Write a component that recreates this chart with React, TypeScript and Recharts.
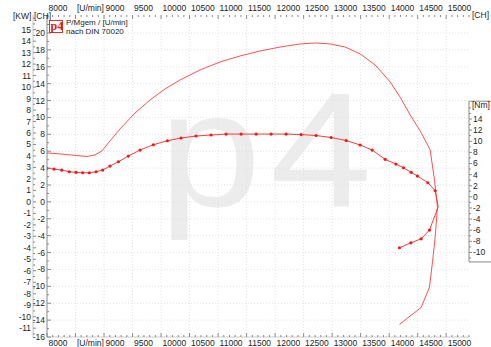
import React from 'react';
import { LineChart, Line, XAxis, YAxis, CartesianGrid, ReferenceArea } from 'recharts';

const FONT = '"Liberation Sans", Arial, sans-serif';
const AXIS = '#8a8a8a';
const TXT = '#1c1c1c';
const RED = '#ff3a3a';

// x axis (rpm) major ticks and their labels
const rpmTicks = [8000, 8500, 9000, 9500, 10000, 10500, 11000, 11500, 12000, 12500, 13000, 13500, 14000, 14500, 15000];
const rpmLabels = ['8000', '[U/min]', '9000', '9500', '10000', '10500', '11000', '11500', '12000', '12500', '13000', '13500', '14000', '14500', '15000'];

// y axes labels
const kwLabels = [-11, -10, -9, -8, -7, -6, -5, -4, -3, -2, -1, 0, 1, 2, 3, 4, 5, 6, 7, 8, 9, 10, 11, 12, 13, 14, 15];
const chLeftLabels = [-16, -14, -12, -10, -8, -6, -4, -2, 0, 2, 4, 6, 8, 10, 12, 14, 16, 18, 20];
const chRightLabels = [20, 18, 16, 14, -10, -12, -14, -16];
const nmLabels = [-10, -8, -6, -4, -2, 0, 2, 4, 6, 8, 10, 12, 14];

// power curve [CH]
const powerRpm = [8000, 8228, 8491, 8702, 8842, 8965, 9105, 9281, 9544, 9807, 10070, 10333, 10684, 11035, 11386, 11737, 12088, 12439, 12702, 12965, 13228, 13491, 13754, 14018, 14193, 14368, 14544, 14719, 14795, 14847, 14807, 14760, 14707, 14561, 14181];
const powerCh = [5.8, 5.68, 5.5, 5.38, 5.56, 6.04, 7.22, 8.64, 10.53, 12.07, 13.37, 14.44, 15.62, 16.57, 17.28, 17.87, 18.34, 18.7, 18.82, 18.7, 18.34, 17.52, 16.22, 14.2, 12.4, 10.3, 8.4, 6.15, 2.6, -0.6, -4.2, -7.1, -10.1, -12.5, -14.5];

// torque curve [Nm]
const torqueRpm = [8000, 8123, 8258, 8391, 8509, 8626, 8742, 8860, 8977, 9105, 9251, 9426, 9632, 9865, 10111, 10351, 10614, 10877, 11140, 11404, 11667, 11930, 12193, 12456, 12719, 12982, 13246, 13491, 13702, 13930, 14118, 14251, 14386, 14496, 14679, 14807, 14860, 14707, 14561, 14381, 14181];
const torqueNm = [5.13, 5.0, 4.82, 4.51, 4.41, 4.33, 4.33, 4.51, 4.82, 5.54, 6.31, 7.34, 8.42, 9.37, 10.09, 10.58, 10.94, 11.12, 11.29, 11.29, 11.29, 11.29, 11.29, 11.2, 11.03, 10.67, 10.13, 9.32, 8.42, 6.74, 5.9, 5.23, 4.41, 3.74, 2.54, 1.1, -1.78, -5.97, -7.54, -8.26, -9.15];
const torqueNoMarker = [14860];

const powerData = powerRpm.map((r, i) => ({ rpm: r, ch: powerCh[i] }));
const torqueData = torqueRpm.map((r, i) => ({ rpm: r, nm: torqueNm[i], noDot: torqueNoMarker.includes(r) }));

const X_DOMAIN: [number, number] = [8000, 15400];
const CH_DOMAIN: [number, number] = [-16, 22.13];
const KW_DOMAIN: [number, number] = [-16 / 1.3596, 22.13 / 1.3596];
const NM_DOMAIN: [number, number] = [-25.2, 32.7];

const range = (a: number, b: number, s: number) => {
  const out: number[] = [];
  for (let v = a; v <= b + 1e-9; v += s) out.push(Math.round(v * 100) / 100);
  return out;
};
const xAllTicks = range(8000, 15400, 100);
const kwAllTicks = range(-11.5, 16, 0.5);
const chLeftAll = range(-16, 22, 1);
const chRightAll = chLeftAll.filter((v) => v >= 13 || v <= -9);
const nmAllTicks = range(-11, 16, 1);

const txt = { fontFamily: FONT, fontSize: 8.5, fill: TXT } as const;

const XBottomTick = (p: any) => {
  const { x, y, payload } = p;
  const v = payload.value;
  const idx = rpmTicks.indexOf(v);
  const major = idx >= 0;
  return (
    <g>
      <line x1={x} x2={x} y1={y} y2={y - (major ? 4 : 2)} stroke={AXIS} strokeWidth={1} />
      {major && (
        <text x={x + 1.5} y={y + 8.5} textAnchor="start" {...txt}>
          {rpmLabels[idx]}
        </text>
      )}
    </g>
  );
};

const XTopTick = (p: any) => {
  const { x, y, payload } = p;
  const v = payload.value;
  const idx = rpmTicks.indexOf(v);
  const major = idx >= 0;
  return (
    <g>
      <line x1={x} x2={x} y1={y} y2={y + (major ? 4 : 2)} stroke={AXIS} strokeWidth={1} />
      {major && (
        <text x={x + 1.5} y={y - 4} textAnchor="start" {...txt}>
          {rpmLabels[idx]}
        </text>
      )}
    </g>
  );
};

const ChLeftTick = (p: any) => {
  const { x, y, payload } = p;
  const v = payload.value;
  const lab = chLeftLabels.includes(v);
  return (
    <g>
      <line x1={x} x2={x + (lab ? 4 : 2)} y1={y} y2={y} stroke={AXIS} />
      {lab && (
        <text x={x - 2} y={y + 3} textAnchor="end" {...txt}>
          {v}
        </text>
      )}
    </g>
  );
};

const KwTick = (p: any) => {
  const { x, y, payload } = p;
  const v = payload.value;
  const lab = kwLabels.includes(v);
  return (
    <g>
      <line x1={x} x2={x + (lab ? 3 : 2)} y1={y} y2={y} stroke={AXIS} />
      {lab && (
        <text x={x - 2} y={y + 3} textAnchor="end" {...txt}>
          {v}
        </text>
      )}
    </g>
  );
};

const ChRightTick = (p: any) => {
  const { x, y, payload } = p;
  const v = payload.value;
  const lab = chRightLabels.includes(v);
  return (
    <g>
      <line x1={x} x2={x - (lab ? 4 : 2)} y1={y} y2={y} stroke={AXIS} />
      {lab && (
        <text x={x + 4} y={y + 3} textAnchor="start" {...txt}>
          {v}
        </text>
      )}
    </g>
  );
};

const NmTick = (p: any) => {
  const { x, y, payload } = p;
  const v = payload.value;
  const lab = nmLabels.includes(v);
  return (
    <g>
      <line x1={x} x2={x + (lab ? 3 : 2)} y1={y} y2={y} stroke={AXIS} />
      {lab && (
        <text x={x + 4} y={y + 3} textAnchor="start" {...txt}>
          {v}
        </text>
      )}
    </g>
  );
};

const TorqueDot = (p: any) => {
  const { cx, cy, payload, index } = p;
  if (payload.noDot) return <g key={`d${index}`} />;
  return <circle key={`d${index}`} cx={cx} cy={cy} r={1.6} fill="#f01818" />;
};

export default function App() {
  return (
    <div style={{ position: 'absolute', left: 0, top: 0, width: 491, height: 347, background: '#fff', overflow: 'hidden' }}>
      <svg width={491} height={347} style={{ position: 'absolute', left: 0, top: 0 }}>
        <text
          x={0}
          y={0}
          transform="translate(159,206) scale(1.12,1)"
          fontFamily={FONT}
          fontSize={164}
          fill="#ececec"
          letterSpacing={8}
        >
          p4
        </text>
      </svg>
      <div style={{ position: 'absolute', left: 0, top: 0 }}>
        <LineChart width={491} height={347} margin={{ top: 0, right: 0, bottom: 0, left: 0 }}>
          <CartesianGrid
            xAxisId="b"
            yAxisId="ch"
            stroke="#e2e2e2"
            strokeDasharray="1 2"
            verticalValues={rpmTicks}
            horizontalValues={chLeftLabels}
          />
          <XAxis
            xAxisId="t"
            orientation="top"
            dataKey="rpm"
            type="number"
            domain={X_DOMAIN}
            allowDataOverflow
            ticks={xAllTicks}
            interval={0}
            height={15}
            tickSize={0}
            tickMargin={0}
            tick={XTopTick}
            axisLine={false}
          />
          <XAxis
            xAxisId="b"
            orientation="bottom"
            dataKey="rpm"
            type="number"
            domain={X_DOMAIN}
            allowDataOverflow
            ticks={xAllTicks}
            interval={0}
            height={10}
            tickSize={0}
            tickMargin={0}
            tick={XBottomTick}
            axisLine={{ stroke: '#d0d0d0' }}
          />
          <YAxis
            yAxisId="ch"
            orientation="left"
            type="number"
            domain={CH_DOMAIN}
            allowDataOverflow
            ticks={chLeftAll}
            interval={0}
            width={14}
            tickSize={0}
            tickMargin={0}
            tick={ChLeftTick}
            axisLine={{ stroke: AXIS }}
          />
          <YAxis
            yAxisId="kw"
            orientation="left"
            type="number"
            domain={KW_DOMAIN}
            allowDataOverflow
            ticks={kwAllTicks}
            interval={0}
            width={33}
            tickSize={0}
            tickMargin={0}
            tick={KwTick}
            axisLine={{ stroke: '#c4c4c4' }}
          />
          <YAxis
            yAxisId="chr"
            orientation="right"
            type="number"
            domain={CH_DOMAIN}
            allowDataOverflow
            ticks={chRightAll}
            interval={0}
            width={0}
            tickSize={0}
            tickMargin={0}
            tick={ChRightTick}
            axisLine={{ stroke: AXIS }}
          />
          <YAxis
            yAxisId="nm"
            orientation="right"
            type="number"
            domain={NM_DOMAIN}
            allowDataOverflow
            ticks={nmAllTicks}
            interval={0}
            width={22}
            tickSize={0}
            tickMargin={0}
            tick={NmTick}
            axisLine={false}
          />
          <ReferenceArea
            xAxisId="b"
            yAxisId="nm"
            x1={15400}
            x2={16000}
            y1={-11.7}
            y2={17.2}
            ifOverflow="visible"
            fill="#ffffff"
            fillOpacity={1}
            stroke={AXIS}
            strokeWidth={1}
          />
          <Line
            data={powerData}
            xAxisId="b"
            yAxisId="ch"
            dataKey="ch"
            type="linear"
            stroke="#ff5050"
            strokeWidth={1}
            dot={false}
            isAnimationActive={false}
          />
          <Line
            data={torqueData}
            xAxisId="b"
            yAxisId="nm"
            dataKey="nm"
            type="linear"
            stroke={RED}
            strokeWidth={1}
            dot={TorqueDot}
            isAnimationActive={false}
          />
        </LineChart>
      </div>
      <svg width={491} height={347} style={{ position: 'absolute', left: 0, top: 0, pointerEvents: 'none' }}>
        <text x={13} y={19} {...txt}>[KW]</text>
        <text x={34} y={19} {...txt}>[CH]</text>
        <text x={472} y={18} {...txt}>[CH]</text>
        <text x={472} y={108} {...txt}>[Nm]</text>
        <rect x={49.5} y={20.5} width={13} height={12} fill="#fff" stroke="#e03030" strokeWidth={1} />
        <text x={50.5} y={30} fontFamily='"Liberation Serif", serif' fontWeight="bold" fontSize={12} fill="#d42020">p4</text>
        <text x={66} y={25} fontFamily={FONT} fontSize={8} fill={TXT}>P/Mgem / [U/min]</text>
        <text x={66} y={33.5} fontFamily={FONT} fontSize={8} fill={TXT}>nach DIN 70020</text>
      </svg>
    </div>
  );
}
